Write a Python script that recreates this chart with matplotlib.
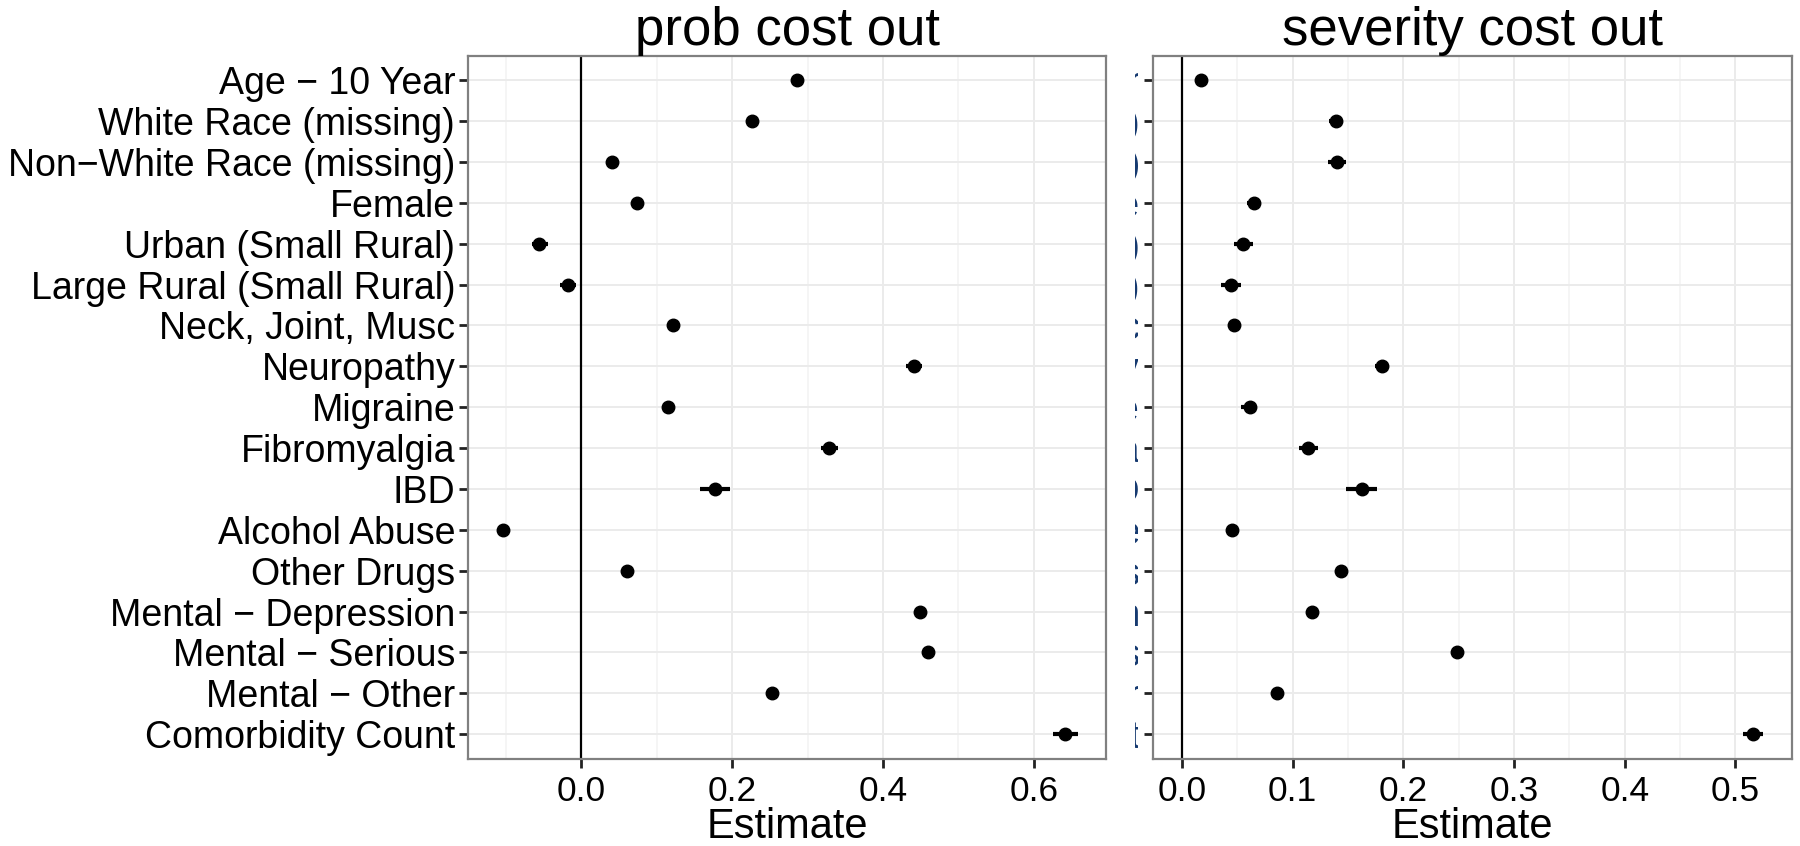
import matplotlib
matplotlib.use("Agg")
import matplotlib.pyplot as plt
from matplotlib.transforms import Bbox, TransformedBbox

plt.rcParams['font.family'] = ['Liberation Sans', 'DejaVu Sans']

labels = ["Age \u2212 10 Year", "White Race (missing)", "Non\u2212White Race (missing)",
          "Female", "Urban (Small Rural)", "Large Rural (Small Rural)",
          "Neck, Joint, Musc", "Neuropathy", "Migraine", "Fibromyalgia", "IBD",
          "Alcohol Abuse", "Other Drugs", "Mental \u2212 Depression",
          "Mental \u2212 Serious", "Mental \u2212 Other", "Comorbidity Count"]

# prob cost out
prob_est = [0.286, 0.226, 0.041, 0.074, -0.056, -0.018, 0.122, 0.441, 0.115,
            0.329, 0.177, -0.104, 0.061, 0.449, 0.460, 0.253, 0.642]
prob_lo = [0.281, 0.221, 0.035, 0.069, -0.066, -0.029, 0.117, 0.431, 0.110,
           0.318, 0.157, -0.108, 0.056, 0.445, 0.455, 0.248, 0.625]
prob_hi = [0.291, 0.231, 0.047, 0.079, -0.045, -0.007, 0.127, 0.452, 0.120,
           0.341, 0.197, -0.100, 0.066, 0.453, 0.465, 0.258, 0.659]

# severity cost out
sev_est = [0.017, 0.139, 0.140, 0.065, 0.055, 0.044, 0.047, 0.181, 0.061,
           0.114, 0.163, 0.045, 0.144, 0.117, 0.248, 0.086, 0.516]
sev_lo = [0.013, 0.133, 0.132, 0.059, 0.047, 0.035, 0.043, 0.174, 0.053,
          0.106, 0.148, 0.041, 0.139, 0.113, 0.244, 0.082, 0.507]
sev_hi = [0.021, 0.145, 0.148, 0.071, 0.064, 0.053, 0.051, 0.187, 0.068,
          0.123, 0.176, 0.049, 0.149, 0.121, 0.252, 0.090, 0.525]

prob_ticks = [0.0, 0.2, 0.4, 0.6]
prob_minor = [-0.1, 0.1, 0.3, 0.5]
sev_ticks = [0.0, 0.1, 0.2, 0.3, 0.4, 0.5]
sev_minor = [0.05, 0.15, 0.25, 0.35, 0.45]

n = len(labels)
ypos = list(range(n, 0, -1))

fig = plt.figure(figsize=(18, 8.46), dpi=100)
ax1 = fig.add_axes([0.2602, 0.1032, 0.3543, 0.831])
ax2 = fig.add_axes([0.6407, 0.1032, 0.3548, 0.831])


def panel(ax, est, lo, hi, xlim, ticks, minor, title):
    ax.set_xlim(*xlim)
    ax.set_ylim(0.4, n + 0.6)
    ax.set_xticks(ticks)
    ax.set_xticklabels(["%.1f" % t for t in ticks])
    ax.set_xticks(minor, minor=True)
    ax.set_yticks(ypos)
    ax.grid(True, which='major', color='#ebebeb', linewidth=1.4, zorder=0)
    ax.grid(True, which='minor', axis='x', color='#f4f4f4', linewidth=1.2, zorder=0)
    ax.set_axisbelow(True)
    ax.axvline(0, color='black', linewidth=1.6, zorder=1)
    ax.hlines(ypos, lo, hi, color='black', linewidth=3, zorder=2)
    ax.plot(est, ypos, 'o', color='black', markersize=9, zorder=3)
    for s in ax.spines.values():
        s.set_color('#808080')
        s.set_linewidth(1.6)
    ax.tick_params(axis='both', which='major', length=6.5, width=2,
                   color='#222222')
    ax.tick_params(axis='x', which='major', labelsize=25.5, pad=5)
    ax.tick_params(axis='y', which='major', labelsize=27, pad=3)
    ax.tick_params(axis='x', which='minor', length=0)
    ax.set_title(title, fontsize=38, pad=-1)
    ax.set_xlabel("Estimate", fontsize=30)
    ax.xaxis.set_label_coords(0.5, -0.069)


panel(ax1, prob_est, prob_lo, prob_hi, (-0.15, 0.696), prob_ticks, prob_minor,
      "prob cost out")
panel(ax2, sev_est, sev_lo, sev_hi, (-0.026, 0.551), sev_ticks, sev_minor,
      "severity cost out")

ax1.set_yticklabels(labels)

# right panel labels are hidden behind the left one, only slivers show
ax2.set_yticklabels(labels, color='#163a70')
clip = TransformedBbox(Bbox([[1134.5 / 1800, 0], [1137.5 / 1800, 1]]), fig.transFigure)
for t in ax2.get_yticklabels():
    t.set_clip_box(clip)
    t.set_clip_on(True)

fig.savefig("out.png", dpi=100)
